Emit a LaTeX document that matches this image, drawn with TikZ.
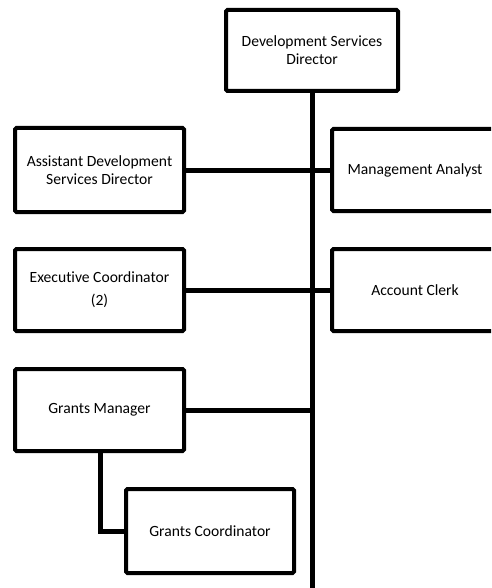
\documentclass[tikz,border=0pt]{standalone}
\usepackage{fontspec}
\setmainfont{Carlito}[Ligatures={NoCommon}]
\begin{document}
\begin{tikzpicture}[x=1pt,y=-1pt,
  box/.style={draw, line width=4pt, rounded corners=1.5pt, align=center,
    inner sep=0pt, outer sep=0pt, anchor=north west,
    font=\fontsize{15.6}{18}\selectfont},
  conn/.style={line width=5pt}]
\useasboundingbox (0,0) rectangle (491,588);
\clip (0,0) rectangle (491,588);
\node[box, minimum width=172pt, minimum height=81pt] (dir) at (226,10) {Development Services\\Director};
\node[box, minimum width=169pt, minimum height=84pt] (asst) at (15,128) {Assistant Development\\Services Director};
\node[box, minimum width=166pt, minimum height=82pt] (mgmt) at (332,129) {Management Analyst};
\node[box, minimum width=169pt, minimum height=82pt] (exec) at (15,249) {Executive Coordinator\\[5pt](2)};
\node[box, minimum width=166pt, minimum height=82pt] (acct) at (332,249) {Account Clerk};
\node[box, minimum width=169pt, minimum height=82pt] (gm) at (15,369) {Grants Manager};
\node[box, minimum width=168pt, minimum height=84pt] (gc) at (126,489) {Grants Coordinator};
\coordinate (vb) at (312,592);
\coordinate (gmb) at (100,451);
\draw[conn] (dir.south) -- (dir.south |- vb);
\draw[conn] (asst.east) -- (mgmt.west);
\draw[conn] (exec.east) -- (acct.west);
\draw[conn] (gm.east) -- (gm.east -| dir.south);
\draw[conn] (gmb) |- (gc.west);
\end{tikzpicture}
\end{document}
